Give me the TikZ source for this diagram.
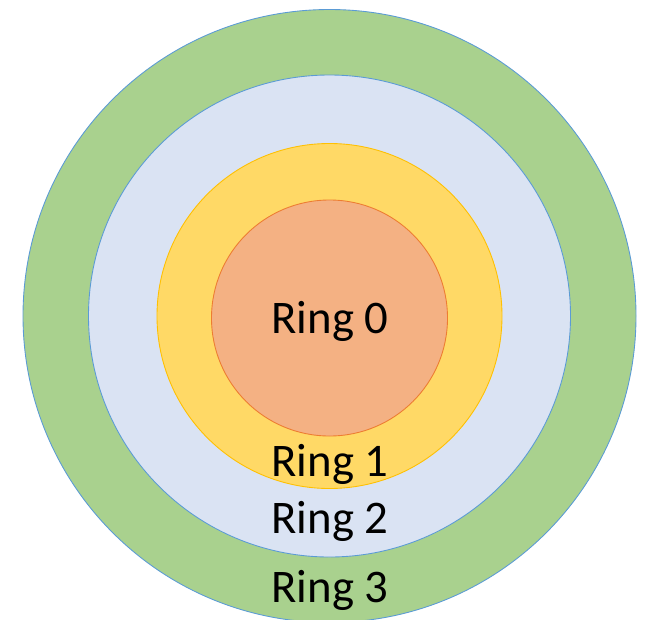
\documentclass[tikz,border=0pt]{standalone}
\usepackage{fontspec}
\setmainfont{Carlito}
\usepackage{xcolor}

\definecolor{ringthree}{HTML}{A9D18E}
\definecolor{ringtwo}{HTML}{DAE3F3}
\definecolor{ringone}{HTML}{FFD966}
\definecolor{ringzero}{HTML}{F4B183}
\definecolor{edgeblue}{HTML}{5B9BD5}
\definecolor{edgegold}{HTML}{FFC000}
\definecolor{edgeorange}{HTML}{ED7D31}

\tikzset{
  disc/.style={line width=0.5pt},
  ringlabel/.style={anchor=base, inner sep=0pt, font=\fontsize{26.6}{30}\selectfont}
}

\begin{document}
\begin{tikzpicture}
    \useasboundingbox (0,0) rectangle (13.02,-12.38);
    \coordinate (C) at (6.59,-6.32);
    % rings, outermost first
    \draw[disc, fill=ringthree, draw=edgeblue] (C) circle (6.13);
    \draw[disc, fill=ringtwo, draw=edgeblue] (C) circle (4.82);
    \draw[disc, fill=ringone, draw=edgegold] (C) circle (3.45);
    \draw[disc, fill=ringzero, draw=edgeorange] (6.59,-6.36) circle (2.36);
    % labels
    \node[ringlabel] (r0) at (6.6,-6.66) {Ring 0};
    \node[ringlabel] (r1) at (6.6,-9.52) {Ring 1};
    \node[ringlabel] (r2) at (6.6,-10.66) {Ring 2};
    \node[ringlabel] (r3) at (6.6,-12.05) {Ring 3};
  \end{tikzpicture}
\end{document}
